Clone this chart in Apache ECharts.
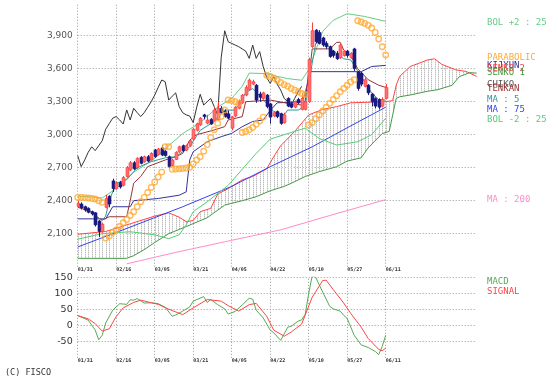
<!DOCTYPE html>
<html><head><meta charset="utf-8">
<script src="https://cdn.jsdelivr.net/npm/echarts@6/dist/echarts.min.js"></script>
<style>html,body{margin:0;padding:0;background:#fff}#c{width:558px;height:383px}</style>
</head><body><div id="c"></div>
<script>
// ---------------- DATA ----------------
const tickLabels = ['01/31','02/16','03/05','03/21','04/05','04/22','05/10','05/27','06/11'];
const daysPerTick = 11;      // trading days between date ticks
const lastDay = 114;         // 88 trading days + 26 days of cloud projection

// daily candles [open, close, low, high], index 0 = 01/31
const candles = [
 [2350,2375,2340,2400],[2370,2335,2320,2385],[2345,2315,2300,2355],[2330,2295,2285,2340],[2300,2280,2265,2310],
 [2290,2180,2165,2295],[2215,2120,2070,2225],[2120,2185,2110,2200],[2340,2420,2330,2455],[2440,2370,2340,2450],
 [2580,2510,2480,2600],[2510,2560,2500,2575],[2565,2525,2510,2580],[2540,2610,2530,2625],[2620,2700,2610,2715],
 [2680,2745,2670,2760],[2745,2690,2680,2760],[2700,2785,2690,2795],[2795,2740,2730,2805],[2755,2800,2745,2810],
 [2800,2760,2750,2815],[2770,2830,2765,2840],[2860,2800,2790,2870],[2820,2870,2810,2880],[2880,2815,2805,2905],
 [2850,2810,2800,2860],[2800,2710,2695,2810],[2720,2770,2710,2780],[2775,2840,2770,2850],[2845,2890,2835,2900],
 [2900,2855,2845,2910],[2860,2900,2850,2910],[2900,2945,2890,2955],[2960,3050,2950,3060],[3040,3100,3030,3110],
 [3090,3150,3080,3160],[3180,3165,3140,3190],[3105,3134,3095,3180],[3140,3097,3090,3150],[3130,3225,3120,3250],
 [3135,3240,3125,3300],[3240,3200,3190,3260],[3215,3165,3155,3230],[3190,3150,3140,3220],[3060,3160,3040,3170],
 [3170,3250,3160,3260],[3240,3300,3230,3320],[3290,3360,3280,3370],[3360,3430,3350,3450],[3410,3497,3400,3510],
 [3460,3482,3450,3500],[3450,3315,3290,3460],[3370,3340,3300,3390],[3330,3380,3320,3390],[3360,3255,3240,3370],
 [3280,3160,3100,3290],[3170,3200,3160,3215],[3210,3164,3150,3220],[3190,3103,3090,3200],[3110,3180,3100,3200],
 [3330,3260,3250,3340],[3280,3250,3240,3300],[3250,3300,3240,3310],[3320,3290,3280,3335],[3230,3330,3220,3380],
 [3230,3300,3220,3320],[3300,3680,3290,3700],[3800,3945,3790,4020],[3950,3845,3830,3960],[3930,3830,3820,3950],
 [3880,3815,3800,3890],[3830,3800,3780,3850],[3800,3710,3700,3810],[3760,3720,3700,3770],[3740,3690,3680,3760],
 [3700,3815,3690,3830],[3720,3760,3710,3770],[3760,3720,3700,3770],[3700,3740,3690,3750],[3780,3600,3580,3790],
 [3570,3420,3400,3580],[3560,3460,3440,3570],[3440,3500,3430,3520],[3450,3380,3360,3460],[3370,3300,3260,3380],
 [3330,3260,3240,3340],[3320,3250,3230,3330],[3260,3320,3250,3340],[3330,3430,3320,3460]
];

// parabolic SAR, one value per day
const parabolic = [
 2430,2430,2428,2425,2420,2415,2400,2385,
 2060,2080,2110,2135,2165,2200,2230,2265,2300,2345,2390,2430,2475,2520,2570,2615,2660,
 2890,2890,
 2685,2688,2690,2693,2697,2705,
 2735,2770,2800,2850,2910,2975,3045,3105,3165,3225,
 3315,3310,3300,3285,
 3020,3030,3045,3065,3095,3125,3160,
 3540,3530,3515,3495,3475,3455,3440,3420,3405,3390,3375,3365,
 3088,3110,3145,3180,3215,3250,3285,3320,3355,3390,3420,3450,3480,3500,
 4036,4025,4012,3995,3970,3930,3870,3800,3724
];

// chiko (lagging span), one value per day from index 0
const chiko = [
 2810,2710,2770,2840,2890,2855,2900,2945,3050,3100,
 3150,3165,3134,3097,3225,3134,3240,3200,3165,3200,
 3250,3300,3360,3430,3497,3482,3315,3350,3380,3255,
 3200,3180,3170,3110,3250,3367,3270,3300,3330,3255,
 3180,3700,3945,3845,3830,3815,3800,3780,3760,3694,
 3815,3694,3755,3620,3520,3467,3527,3460,3406,3330,
 3300,3270,3330,3391,3440
];

// line indicators read as [day index, value] vertices
const ma5 = [[0,2380],[4,2290],[7,2220],[8,2260],[9,2400],[11,2560],[14,2590],[17,2700],[21,2755],[25,2790],[28,2800],[32,2890],[35,3040],[39,3120],[42,3224],[45,3224],[48,3380],[50,3420],[53,3320],[56,3210],[59,3180],[60,3224],[63,3224],[65,3260],[66,3450],[67,3650],[68,3830],[70,3860],[73,3760],[76,3690],[78,3680],[80,3580],[82,3480],[84,3380],[86,3320],[88,3315]];
const ma75 = [[0,1979],[15,2160],[30,2345],[44,2530],[55,2709],[67,2890],[78,3080],[88,3250]];
const ma200 = [[14,1826],[28,1930],[44,2040],[58,2135],[72,2265],[88,2410]];
const bolUpper = [[0,2440],[4,2435],[7,2425],[11,2510],[16,2660],[21,2760],[26,2900],[30,3010],[35,3110],[40,3250],[44,3330],[47,3440],[49,3560],[54,3555],[57,3530],[60,3510],[64,3495],[66,3590],[70,3940],[73,4040],[77,4100],[82,4075],[88,4030]];
const bolLower = [[0,2050],[7,2100],[15,2118],[22,2090],[26,2055],[29,2090],[31,2180],[33,2300],[37,2390],[43,2540],[51,2830],[55,2960],[59,3000],[65,3060],[69,2965],[74,2906],[80,2936],[84,3000],[88,3150]];
const kijun = [[0,2235],[8,2235],[9,2290],[10,2345],[15,2345],[16,2400],[23,2420],[29,2450],[31,2480],[32,2770],[33,2845],[37,2936],[41,2982],[44,3012],[47,3073],[50,3120],[53,3134],[55,3220],[57,3290],[65,3300],[66,3573],[81,3573],[84,3620],[88,3630]];
const tenkan = [[0,2340],[4,2300],[5,2260],[7,2224],[9,2254],[14,2254],[15,2400],[16,2560],[18,2620],[20,2710],[25,2770],[28,2800],[30,2830],[32,2950],[34,3000],[39,3043],[42,3073],[43,3134],[47,3164],[48,3300],[55,3315],[60,3285],[64,3270],[66,3500],[67,3780],[72,3780],[74,3840],[75,3840],[76,3770],[78,3720],[80,3600],[83,3500],[86,3450],[88,3430]];
const senko2 = [[0,2095],[8,2120],[15,2190],[22,2260],[26,2290],[29,2250],[31,2210],[33,2220],[35,2300],[38,2330],[40,2460],[43,2510],[47,2590],[50,2620],[54,2690],[56,2800],[58,2900],[62,3030],[66,3180],[70,3230],[74,3255],[78,3290],[88,3300],[90,3310],[91,3450],[92,3530],[95,3620],[100,3680],[102,3690],[104,3640],[108,3590],[111,3575],[114,3530]];
const senko1 = [[0,1876],[14,1876],[16,1900],[19,1955],[22,2020],[26,2100],[31,2165],[37,2245],[42,2360],[47,2400],[51,2436],[55,2490],[59,2530],[61,2558],[65,2620],[69,2664],[74,2709],[77,2760],[81,2790],[83,2880],[87,3010],[89,3030],[91,3330],[92,3345],[95,3361],[100,3395],[103,3410],[107,3450],[109,3527],[112,3564],[114,3560]];
const macd = [[0,31],[3,17],[5,-14],[6,-44],[7,-30],[8,8],[10,48],[12,68],[14,66],[15,80],[16,79],[17,84],[19,70],[21,71],[23,68],[25,57],[27,29],[28,33],[30,45],[32,58],[33,76],[36,90],[37,72],[38,81],[40,65],[42,52],[43,36],[45,44],[47,64],[49,85],[50,82],[51,48],[53,24],[55,-14],[56,-22],[58,-46],[60,-5],[61,-2],[63,14],[64,18],[65,35],[66,100],[67,154],[68,150],[70,104],[72,60],[73,52],[75,45],[76,32],[77,22],[79,-30],[81,-60],[83,-68],[85,-80],[86,-90],[87,-65],[88,-30]];
const signal = [[0,31],[3,21],[5,6],[7,-17],[9,-10],[11,28],[13,55],[16,72],[18,79],[21,71],[23,66],[26,51],[30,34],[33,55],[37,81],[41,76],[43,62],[46,45],[49,65],[51,69],[54,29],[56,-14],[59,-33],[61,-20],[64,5],[67,88],[70,140],[71,141],[73,112],[76,70],[78,38],[81,-5],[83,-40],[86,-74],[87,-78],[88,-70]];

const legendLabels = ['BOL +2 : 25','PARABOLIC','KIJYUN','SENKO 2','SENKO 1','CHIKO','TENKAN','MA : 5','MA : 75','BOL -2 : 25','MA : 200','MACD','SIGNAL'];
const copyright = '(C) FISCO';

// ---------------- STYLE / LAYOUT ----------------
const C = {
  bol:'#66cc88', bolLo:'#55cc77', sar:'#ffaa33', kijun:'#333399', senkoRed:'#ff4444', senkoGreen:'#449944',
  chiko:'#333333', tenkan:'#993333', ma5:'#339999', ma75:'#3344ee', ma200:'#ff8cc8',
  macd:'#55aa55', signal:'#ff4444', up:'#ff3b3b', upFill:'#ff7070', down:'#1a1a80', grid:'#999999'
};
const legendStyle = [
  [23,C.bol],[58,C.sar],[66,C.kijun],[68.5,C.senkoRed],[72.5,C.senkoGreen],[84.5,'#555555'],[89,C.tenkan],
  [99.5,C.ma5],[110,C.ma75],[119.5,C.bolLo],[200,C.ma200],[281.7,C.macd],[292,C.signal]
];

const hatch = document.createElement('canvas');
hatch.width = 7; hatch.height = 2;
(function(){
  const g = hatch.getContext('2d');
  g.fillStyle = '#bdbdbd'; g.fillRect(1,0,1,1); g.fillRect(4,0,1,1);
  g.fillStyle = '#e2e2e2'; g.fillRect(1,1,1,1); g.fillRect(4,1,1,1);
})();

const chart = echarts.init(document.getElementById('c'), null, {renderer:'canvas', width:558, height:383});

function line(data, color, xi, yi, z) {
  return {type:'line', data:data, xAxisIndex:xi||0, yAxisIndex:yi||0, showSymbol:false, symbol:'none',
    silent:true, animation:false, z:z||2, lineStyle:{color:color, width:1}, itemStyle:{color:color}};
}
function vgrid(xi, yi, y0) {
  return {type:'line', xAxisIndex:xi, yAxisIndex:yi, data:[[0,y0]], symbol:'none', silent:true, animation:false,
    lineStyle:{opacity:0}, z:0,
    markLine:{silent:true, animation:false, z:0, symbol:['none','none'], label:{show:false},
      lineStyle:{color:C.grid, type:[1,2], width:1}, emphasis:{disabled:true},
      data: tickLabels.map(function(t,k){ return {xAxis:k*daysPerTick}; })}};
}
const xLabel = {formatter:function(v){ return (v % daysPerTick === 0 && tickLabels[v/daysPerTick]) || ''; },
  align:'left', fontSize:5, fontWeight:'bold', fontFamily:'DejaVu Sans Mono', color:'#333'};

const option = {
  backgroundColor:'#ffffff',
  animation:false,
  grid:[
    {left:77.7, width:399, top:2.7, height:264},
    {left:77.7, width:399, top:277.3, height:80.5}
  ],
  xAxis:[
    {gridIndex:0, type:'value', min:0, max:lastDay, interval:daysPerTick, axisLine:{show:false}, axisTick:{show:false},
      splitLine:{show:false}, axisLabel:Object.assign({margin:1}, xLabel)},
    {gridIndex:1, type:'value', min:0, max:lastDay, interval:daysPerTick, axisLine:{show:false}, axisTick:{show:false},
      splitLine:{show:false}, axisLabel:Object.assign({margin:0.5}, xLabel)}
  ],
  yAxis:[
    {gridIndex:0, type:'value', min:1800, max:4200, interval:300, axisLine:{show:false}, axisTick:{show:false},
      splitLine:{show:true, showMinLine:false, showMaxLine:false, lineStyle:{color:C.grid, type:[1,2], width:1}},
      axisLabel:{showMinLabel:false, showMaxLabel:false, margin:5, color:'#555', fontSize:9, fontFamily:'DejaVu Sans',
        formatter:function(v){ return v.toLocaleString('en-US'); }}},
    {gridIndex:1, type:'value', min:-100, max:150, interval:50, axisLine:{show:false}, axisTick:{show:false},
      splitLine:{show:true, showMinLine:false, lineStyle:{color:C.grid, type:[1,2], width:1}},
      axisLabel:{showMinLabel:false, margin:5, color:'#333', fontSize:9.5, fontFamily:'DejaVu Sans'}}
  ],
  series:[
    vgrid(0,0,1800),
    vgrid(1,1,-100),
    {type:'custom', xAxisIndex:0, yAxisIndex:0, z:1, silent:true, animation:false, data:[[0,senko1[0][1]]],
      renderItem:function(params, api){
        const pts = senko2.map(function(p){ return api.coord(p); })
          .concat(senko1.slice().reverse().map(function(p){ return api.coord(p); }));
        return {type:'polygon', shape:{points:pts}, style:{fill:{image:hatch, repeat:'repeat'}, stroke:null}};
      }},
    line(ma200, C.ma200),
    line(senko2, C.senkoRed),
    line(senko1, C.senkoGreen),
    line(ma75, C.ma75),
    line(bolUpper, C.bol),
    line(bolLower, C.bolLo),
    line(chiko.map(function(v,i){ return [i,v]; }), C.chiko),
    line(kijun, C.kijun),
    line(tenkan, C.tenkan),
    line(ma5, C.ma5),
    {type:'custom', xAxisIndex:0, yAxisIndex:0, z:3, silent:true, animation:false,
      data: candles.map(function(c,i){ return [i, c[0], c[1], c[2], c[3]]; }),
      encode:{x:0, y:[1,2,3,4]},
      renderItem:function(params, api){
        const i = api.value(0), o = api.value(1), c = api.value(2), l = api.value(3), h = api.value(4);
        const pO = api.coord([i,o]), pC = api.coord([i,c]), pL = api.coord([i,l]), pH = api.coord([i,h]);
        const up = c >= o;
        const cx = Math.round(pO[0]);
        const top = Math.min(pO[1], pC[1]);
        const hgt = Math.max(1, Math.abs(pO[1]-pC[1]));
        return {type:'group', children:[
          {type:'line', shape:{x1:cx+0.5, y1:pL[1], x2:cx+0.5, y2:pH[1]}, style:{stroke: up?C.up:C.down, lineWidth:1}},
          {type:'rect', shape:{x:cx-1, y:top, width:3, height:hgt}, style:{fill: up?C.upFill:C.down, stroke: up?C.up:C.down, lineWidth:0.6}}
        ]};
      }},
    {type:'scatter', xAxisIndex:0, yAxisIndex:0, z:4, silent:true, animation:false,
      data: parabolic.map(function(v,i){ return [i,v]; }),
      symbol:'circle', symbolSize:5.5,
      itemStyle:{color:'rgba(0,0,0,0)', borderColor:C.sar, borderWidth:1.4}},
    line(macd, C.macd, 1, 1),
    line(signal, C.signal, 1, 1)
  ],
  graphic:{elements: legendLabels.map(function(t,k){
      return {type:'text', x:487, y:legendStyle[k][0], silent:true,
        style:{text:t, fill:legendStyle[k][1], font:'9px "DejaVu Sans Mono"', verticalAlign:'middle', align:'left'}};
    }).concat([{type:'text', x:5, y:373, silent:true,
        style:{text:copyright, fill:'#333', font:'8.5px "DejaVu Sans Mono"', verticalAlign:'middle', align:'left'}}])}
};
chart.setOption(option);
</script>
</body></html>
